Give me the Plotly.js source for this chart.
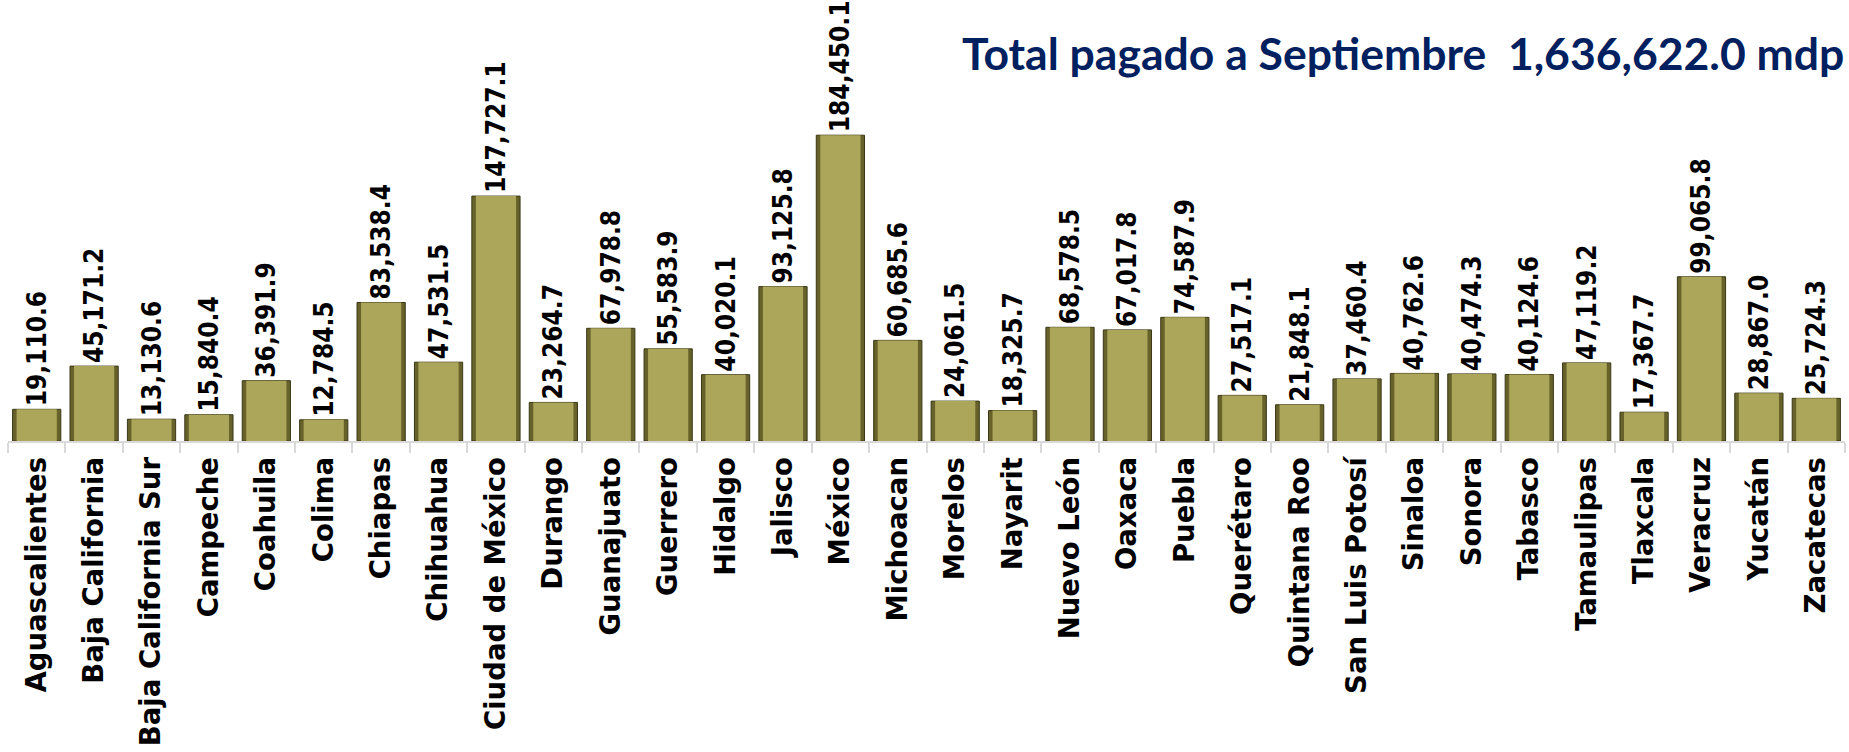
<!DOCTYPE html>
<html>
<head>
<meta charset="utf-8">
<script src="https://cdn.plot.ly/plotly-3.0.1.min.js"></script>
<style>
  html, body { margin: 0; padding: 0; background: #ffffff; }
  #chart { width: 1849px; height: 752px; }
</style>
</head>
<body>
<div id="chart"></div>
<script>
const states = [
  "Aguascalientes", "Baja California", "Baja California Sur", "Campeche", "Coahuila",
  "Colima", "Chiapas", "Chihuahua", "Ciudad de México", "Durango", "Guanajuato",
  "Guerrero", "Hidalgo", "Jalisco", "México", "Michoacan", "Morelos", "Nayarit",
  "Nuevo León", "Oaxaca", "Puebla", "Querétaro", "Quintana Roo", "San Luis Potosí",
  "Sinaloa", "Sonora", "Tabasco", "Tamaulipas", "Tlaxcala", "Veracruz", "Yucatán", "Zacatecas"
];
const paid = [
  19110.6, 45171.2, 13130.6, 15840.4, 36391.9,
  12784.5, 83538.4, 47531.5, 147727.1, 23264.7, 67978.8,
  55583.9, 40020.1, 93125.8, 184450.1, 60685.6, 24061.5, 18325.7,
  68578.5, 67017.8, 74587.9, 27517.1, 21848.1, 37460.4,
  40762.6, 40474.3, 40124.6, 47119.2, 17367.7, 99065.8, 28867.0, 25724.3
];
const titleText = "Total pagado a Septiembre&nbsp;&nbsp;1,636,622.0 mdp";

const fmt = v => v.toLocaleString("en-US", {minimumFractionDigits: 1, maximumFractionDigits: 1});

// outer (bevel edge) layer, carries the value labels
const edge = {
  type: "bar",
  x: states,
  y: paid,
  width: 0.84,
  text: paid.map(fmt),
  textposition: "outside",
  textangle: -90,
  constraintext: "none",
  cliponaxis: false,
  textfont: {family: "DejaVu Sans Condensed", size: 26, color: "#000000", weight: "bold"},
  marker: {color: "#66622a", line: {color: "#3a3716", width: 1}},
  hoverinfo: "x+y"
};
// inner face layer
const face = {
  type: "bar",
  x: states,
  y: paid,
  width: 0.7,
  marker: {color: "#aca65a", line: {width: 0}},
  hoverinfo: "skip"
};

const layout = {
  width: 1849,
  height: 752,
  margin: {l: 8, r: 4, t: 0, b: 311, autoexpand: false},
  paper_bgcolor: "#ffffff",
  plot_bgcolor: "#ffffff",
  barmode: "overlay",
  showlegend: false,
  title: {
    text: titleText,
    font: {family: "Lato", size: 44.5, color: "#002060", weight: "bold"},
    xref: "container", yref: "container",
    x: 0.9975, xanchor: "right",
    y: 0.949, yanchor: "top"
  },
  xaxis: {
    type: "category",
    range: [-0.5, 31.5],
    automargin: false,
    showline: true,
    linecolor: "#d9d9d9",
    linewidth: 2,
    ticks: "outside",
    tickson: "boundaries",
    ticklen: 10,
    tickwidth: 2,
    tickcolor: "#d9d9d9",
    tickangle: -90,
    ticklabelstandoff: 3,
    tickfont: {family: "DejaVu Sans", size: 27.5, color: "#000000", weight: "bold"},
    showgrid: false,
    zeroline: false,
    fixedrange: true
  },
  yaxis: {
    range: [0, 266000],
    visible: false,
    showgrid: false,
    zeroline: false,
    fixedrange: true
  }
};

Plotly.newPlot("chart", [edge, face], layout, {displayModeBar: false, responsive: false});
</script>
</body>
</html>
